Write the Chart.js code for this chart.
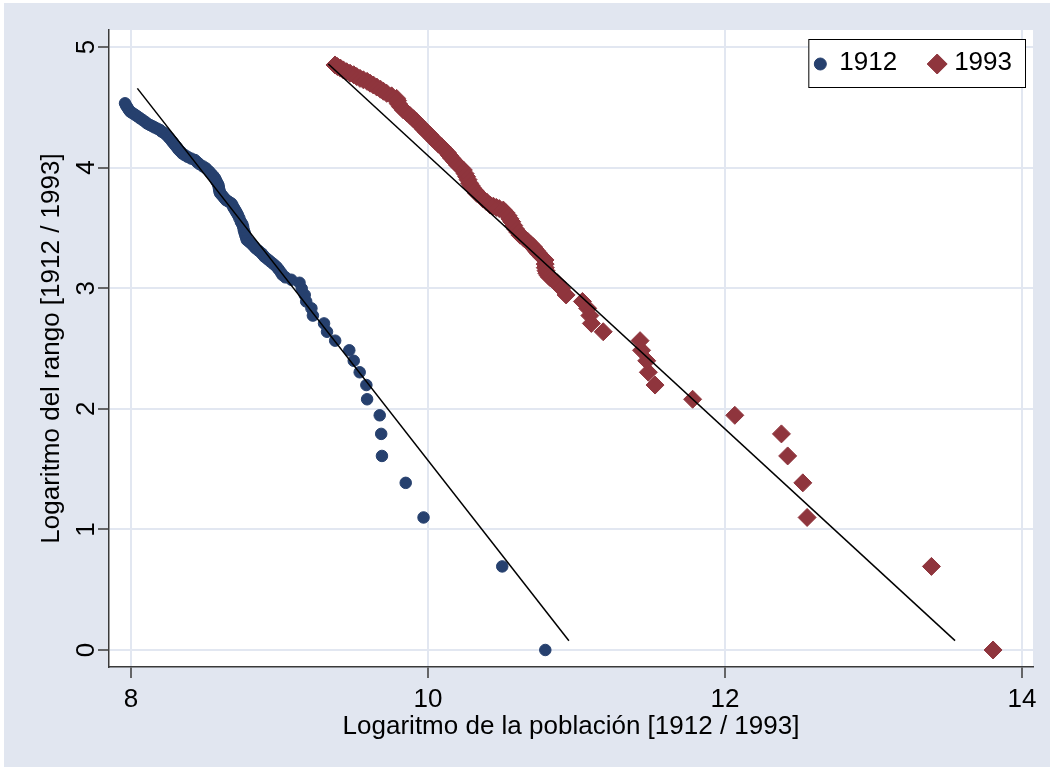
<!DOCTYPE html>
<html><head><meta charset="utf-8">
<script src="https://cdn.jsdelivr.net/npm/chart.js@4.4.1/dist/chart.umd.min.js"></script>
<style>html,body{margin:0;padding:0;background:#fff;}canvas{display:block;}</style>
</head><body>
<canvas id="c" width="1050" height="767"></canvas>
<script>
const seriesNames = ['1912', '1993'];

// 1912: log population (x) and log rank (y)
const pop1912 = [10.79, 10.50, 9.97, 9.85, 9.69, 9.685, 9.675, 9.59, 9.585, 9.54, 9.50, 9.47, 9.375, 9.32, 9.30, 9.225, 9.215, 9.18, 9.17, 9.15, 9.135,
  9.08, 9.04, 9.02, 9.01, 8.995, 8.98, 8.96, 8.94, 8.92, 8.90, 8.89, 8.88, 8.86, 8.84, 8.825, 8.81, 8.795, 8.78, 8.775, 8.77, 8.765, 8.76, 8.755, 8.75, 8.74, 8.73, 8.72,
  8.712, 8.705, 8.698, 8.69, 8.683, 8.675, 8.655, 8.64, 8.63, 8.62, 8.61, 8.60, 8.597, 8.595, 8.592, 8.59, 8.585, 8.577, 8.57, 8.566, 8.555, 8.54, 8.525, 8.505,
  8.485, 8.46, 8.445, 8.43, 8.405, 8.38, 8.36, 8.345, 8.332, 8.32, 8.308, 8.296, 8.285, 8.275, 8.262, 8.25, 8.235, 8.22, 8.205, 8.195, 8.178, 8.16, 8.145, 8.128,
  8.11, 8.095, 8.078, 8.061, 8.043, 8.025, 8.01, 7.995, 7.985, 7.975, 7.967, 7.96];
const lrank1912 = [0, 0.693, 1.099, 1.386, 1.609, 1.792, 1.946, 2.079, 2.197, 2.303, 2.398, 2.485, 2.565, 2.639, 2.708, 2.773, 2.833, 2.890, 2.944, 2.996, 3.045,
  3.07, 3.09, 3.11, 3.13, 3.155, 3.178, 3.20, 3.22, 3.24, 3.26, 3.275, 3.289, 3.31, 3.33, 3.35, 3.37, 3.385, 3.40, 3.42, 3.44, 3.46, 3.48, 3.51, 3.53, 3.55, 3.58, 3.607,
  3.625, 3.64, 3.655, 3.67, 3.69, 3.704, 3.72, 3.73, 3.745, 3.76, 3.775, 3.787, 3.80, 3.814, 3.83, 3.85, 3.865, 3.883, 3.90, 3.911, 3.93, 3.95, 3.97, 3.994,
  4.01, 4.03, 4.045, 4.063, 4.075, 4.09, 4.105, 4.118, 4.135, 4.15, 4.17, 4.187, 4.205, 4.22, 4.24, 4.256, 4.275, 4.29, 4.30, 4.312, 4.322, 4.333, 4.343, 4.353,
  4.365, 4.38, 4.395, 4.409, 4.425, 4.44, 4.452, 4.464, 4.48, 4.50, 4.515, 4.533];

// 1993: log population (x) and log rank (y)
const pop1993 = [13.805, 13.39, 12.553, 12.524, 12.422, 12.38, 12.066, 11.782, 11.529, 11.484, 11.473, 11.438, 11.428, 11.18, 11.10, 11.09, 11.075, 11.04, 10.93, 10.90, 10.87,
  10.84, 10.82, 10.81, 10.80, 10.795, 10.79, 10.789, 10.788, 10.77, 10.75, 10.74, 10.73, 10.72, 10.709, 10.69, 10.67, 10.645, 10.62, 10.605, 10.59, 10.577, 10.564,
  10.552, 10.54, 10.525, 10.507, 10.48, 10.46, 10.44, 10.418, 10.395, 10.37, 10.35, 10.328, 10.315, 10.30, 10.29, 10.28, 10.27, 10.26, 10.25, 10.238, 10.22, 10.20,
  10.18, 10.16, 10.145, 10.13, 10.11, 10.092, 10.07, 10.05, 10.03, 10.013, 9.99, 9.97, 9.947, 9.924, 9.902, 9.88, 9.857, 9.834, 9.815, 9.80, 9.795, 9.789, 9.755,
  9.722, 9.70, 9.68, 9.655, 9.632, 9.61, 9.59, 9.565, 9.542, 9.52, 9.50, 9.475, 9.452, 9.43, 9.41, 9.39, 9.374];
const lrank1993 = [0, 0.693, 1.099, 1.386, 1.609, 1.792, 1.946, 2.079, 2.197, 2.303, 2.398, 2.485, 2.565, 2.639, 2.708, 2.773, 2.833, 2.890, 2.944, 2.996, 3.045,
  3.07, 3.09, 3.105, 3.124, 3.145, 3.17, 3.20, 3.234, 3.255, 3.28, 3.295, 3.31, 3.325, 3.344, 3.365, 3.39, 3.415, 3.44, 3.465, 3.49, 3.52, 3.551,
  3.575, 3.60, 3.625, 3.648, 3.66, 3.67, 3.68, 3.69, 3.715, 3.74, 3.765, 3.787, 3.81, 3.83, 3.85, 3.87, 3.90, 3.925, 3.95, 3.98, 4.00, 4.02,
  4.05, 4.077, 4.10, 4.125, 4.15, 4.173, 4.195, 4.22, 4.245, 4.27, 4.295, 4.32, 4.35, 4.38, 4.405, 4.43, 4.455, 4.478, 4.505, 4.53, 4.555, 4.574, 4.595,
  4.616, 4.633, 4.65, 4.668, 4.685, 4.70, 4.715, 4.728, 4.74, 4.755, 4.77, 4.783, 4.795, 4.81, 4.825, 4.838, 4.851];

// fitted lines (end points)
const fit1912X = [8.043, 10.949];
const fit1912Y = [4.657, 0.077];
const fit1993X = [9.329, 13.549];
const fit1993Y = [4.859, 0.078];

const xTicks = [8, 10, 12, 14];
const yTicks = [0, 1, 2, 3, 4, 5];
const xTitle = 'Logaritmo de la población [1912 / 1993]';
const yTitle = 'Logaritmo del rango [1912 / 1993]';

const FAMILY = '"Liberation Sans", Arial, sans-serif';
const BLUE = '#26406e';
const RED = '#8f353d';
const BG = '#e1e6f0';
const GRID = '#e2e7f1';
const AX = '#3a3a3a';

const pts = (xs, ys) => xs.map((x, i) => ({x: x, y: ys[i]}));

const bgPlugin = {
  id: 'bg',
  beforeDraw(chart) {
    const {ctx, chartArea: a, width, height} = chart;
    ctx.save();
    ctx.fillStyle = '#ffffff';
    ctx.fillRect(0, 0, width, height);
    ctx.fillStyle = BG;
    ctx.fillRect(4, 3, width - 4, height - 3);
    ctx.fillStyle = '#ffffff';
    ctx.fillRect(a.left, a.top, a.right - a.left, a.bottom - a.top);
    ctx.restore();
  }
};

const legendPlugin = {
  id: 'boxLegend',
  afterDraw(chart) {
    const {ctx, chartArea: a} = chart;
    ctx.save();
    ctx.font = '26px ' + FAMILY;
    const w1 = ctx.measureText(seriesNames[0]).width;
    const w2 = ctx.measureText(seriesNames[1]).width;
    const bw = 11 + 19 + w1 + 40 + 17 + w2 + 15;
    const right = a.right - 7, top = a.top + 9, bh = 49;
    const left = right - bw;
    ctx.fillStyle = '#fff';
    ctx.fillRect(left, top, bw, bh);
    ctx.strokeStyle = '#000';
    ctx.lineWidth = 1;
    ctx.strokeRect(left + 0.5, top + 0.5, bw - 1, bh - 1);
    const cy = top + 25;
    const c1 = left + 12;
    ctx.fillStyle = BLUE; ctx.strokeStyle = BLUE;
    Chart.helpers.drawPoint(ctx, {pointStyle: 'circle', radius: 6, borderWidth: 1, rotation: 0}, c1, cy);
    const t1 = c1 + 19;
    const c2 = t1 + w1 + 40;
    ctx.fillStyle = RED; ctx.strokeStyle = RED;
    Chart.helpers.drawPoint(ctx, {pointStyle: 'rectRot', radius: 10, borderWidth: 1, rotation: 0}, c2, cy);
    ctx.fillStyle = '#000';
    ctx.textBaseline = 'middle';
    ctx.textAlign = 'left';
    ctx.fillText(seriesNames[0], t1, cy - 1);
    ctx.fillText(seriesNames[1], c2 + 17, cy - 1);
    ctx.restore();
  }
};

new Chart(document.getElementById('c'), {
  type: 'scatter',
  data: {
    datasets: [
      {type: 'line', label: 'fit1912', data: pts(fit1912X, fit1912Y), borderColor: '#000', borderWidth: 1.5, pointRadius: 0, fill: false, order: 0},
      {type: 'line', label: 'fit1993', data: pts(fit1993X, fit1993Y), borderColor: '#000', borderWidth: 1.5, pointRadius: 0, fill: false, order: 0},
      {label: seriesNames[0], data: pts(pop1912, lrank1912), pointStyle: 'circle', pointRadius: 5.75, pointBorderWidth: 1,
        backgroundColor: BLUE, borderColor: BLUE, order: 1},
      {label: seriesNames[1], data: pts(pop1993, lrank1993), pointStyle: 'rectRot', pointRadius: 9, pointBorderWidth: 1,
        backgroundColor: RED, borderColor: RED, order: 1}
    ]
  },
  options: {
    responsive: false,
    devicePixelRatio: 1,
    animation: false,
    layout: {padding: {left: 0, right: 17, top: 30, bottom: 0}},
    plugins: {legend: {display: false}, tooltip: {enabled: false}},
    scales: {
      x: {
        type: 'linear', min: 7.852, max: 14.074,
        afterBuildTicks: s => { s.ticks = xTicks.map(v => ({value: v})); },
        afterFit: s => { s.height = 100; },
        grid: {color: GRID, lineWidth: 2, drawTicks: true, tickLength: 11, tickColor: AX, tickWidth: 1.5},
        border: {display: true, color: AX, width: 1.5},
        ticks: {color: '#000', font: {size: 26, family: FAMILY}, padding: 6, maxRotation: 0, autoSkip: false},
        title: {display: true, text: xTitle, color: '#000', font: {size: 26, family: FAMILY}, padding: {top: 0, bottom: 25}}
      },
      y: {
        type: 'linear', min: -0.141, max: 5.141,
        afterBuildTicks: s => { s.ticks = yTicks.map(v => ({value: v})); },
        afterFit: s => { s.width = 109; },
        grid: {color: GRID, lineWidth: 2, drawTicks: true, tickLength: 11, tickColor: AX, tickWidth: 1.5},
        border: {display: true, color: AX, width: 1.5},
        ticks: {color: '#000', font: {size: 26, family: FAMILY}, padding: 4, minRotation: 90, maxRotation: 90, crossAlign: 'center', autoSkip: false},
        title: {display: true, text: yTitle, color: '#000', font: {size: 26, family: FAMILY}, padding: {top: 36, bottom: 0}}
      }
    }
  },
  plugins: [bgPlugin, legendPlugin]
});
</script>
</body></html>
